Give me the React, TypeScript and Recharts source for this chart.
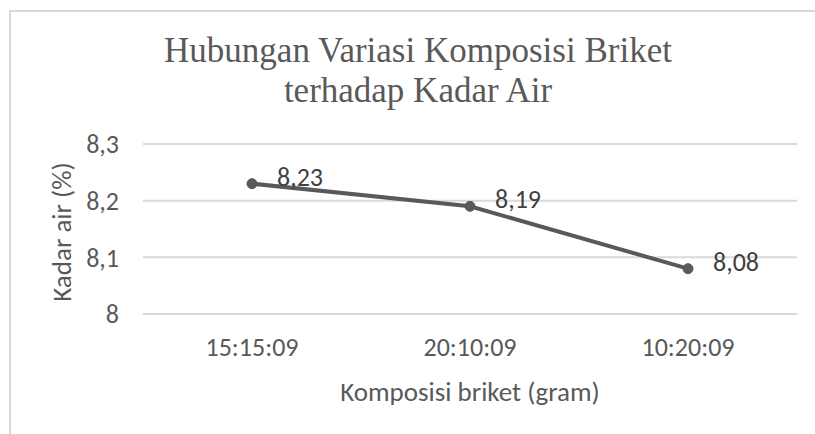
import { CartesianGrid, LabelList, Line, LineChart, XAxis, YAxis } from 'recharts';

const komposisi = ['15:15:09', '20:10:09', '10:20:09'];
const kadarAir = [8.23, 8.19, 8.08];
const yTicks = [8, 8.1, 8.2, 8.3];

const titleLines = ['Hubungan Variasi Komposisi Briket', 'terhadap Kadar Air'];

const data = komposisi.map((k, i) => ({ komposisi: k, kadar: kadarAir[i] }));

const textColor = '#595959';
const lineColor = '#595959';
const gridColor = '#d9d9d9';
const sansFont = 'Carlito, Lato, sans-serif';
const tickSize = 26;
const axisTitleSize = 27;

const fmt = (v: number) => String(Number(v.toFixed(2))).replace('.', ',');

function YLabel({ viewBox }: any) {
    const cx = viewBox.x + 61;
    const cy = viewBox.y + viewBox.height / 2 + 3;
    return (
        <text
            x={cx}
            y={cy}
            transform={`rotate(-90 ${cx} ${cy})`}
            textAnchor="middle"
            dominantBaseline="central"
            fill={textColor}
            fontSize={axisTitleSize}
            fontFamily={sansFont}
        >
            Kadar air (%)
        </text>
    );
}

function XLabel({ viewBox }: any) {
    return (
        <text
            x={viewBox.x + viewBox.width / 2}
            y={viewBox.y + 77}
            textAnchor="middle"
            dominantBaseline="central"
            fill={textColor}
            fontSize={axisTitleSize}
            fontFamily={sansFont}
        >
            Komposisi briket (gram)
        </text>
    );
}

function PointLabel({ x, y, value }: any) {
    return (
        <text
            x={x + 25}
            y={y - 7}
            dominantBaseline="central"
            fill="#404040"
            fontSize={tickSize}
            fontFamily={sansFont}
        >
            {fmt(value)}
        </text>
    );
}

export default function App() {
    return (
        <div style={{ position: 'absolute', left: 0, top: 0, width: 815, height: 434, background: '#fff' }}>
            <div
                style={{
                    position: 'absolute',
                    left: 9,
                    top: 10,
                    width: 815,
                    height: 434,
                    borderLeft: '2px solid #d9d9d9',
                    borderTop: '2px solid #d9d9d9',
                }}
            />
            <div
                style={{
                    position: 'absolute',
                    left: 118,
                    top: 31,
                    width: 600,
                    textAlign: 'center',
                    fontFamily: '"Liberation Serif", serif',
                    fontSize: 35,
                    lineHeight: '40px',
                    color: textColor,
                }}
            >
                {titleLines.map((t) => (
                    <div key={t}>{t}</div>
                ))}
            </div>
            <LineChart
                width={815}
                height={434}
                data={data}
                margin={{ top: 144, right: 18, left: 0, bottom: 60 }}
                style={{ position: 'absolute', left: 0, top: 0 }}
            >
                <CartesianGrid vertical={false} stroke={gridColor} strokeWidth={2} />
                <XAxis
                    dataKey="komposisi"
                    axisLine={false}
                    tickLine={false}
                    height={60}
                    padding={{ left: 109, right: 109 }}
                    tickMargin={18}
                    tick={{ fill: textColor, fontSize: tickSize, fontFamily: sansFont }}
                    label={<XLabel />}
                />
                <YAxis
                    width={143}
                    domain={[8, 8.3]}
                    ticks={yTicks}
                    axisLine={false}
                    tickLine={false}
                    tickMargin={18}
                    tickFormatter={fmt}
                    tick={{ fill: textColor, fontSize: tickSize, fontFamily: sansFont }}
                    label={<YLabel />}
                />
                <Line
                    dataKey="kadar"
                    stroke={lineColor}
                    strokeWidth={4}
                    dot={{ r: 5, fill: lineColor, stroke: lineColor, strokeWidth: 1 }}
                    isAnimationActive={false}
                >
                    <LabelList dataKey="kadar" content={<PointLabel />} />
                </Line>
            </LineChart>
        </div>
    );
}
